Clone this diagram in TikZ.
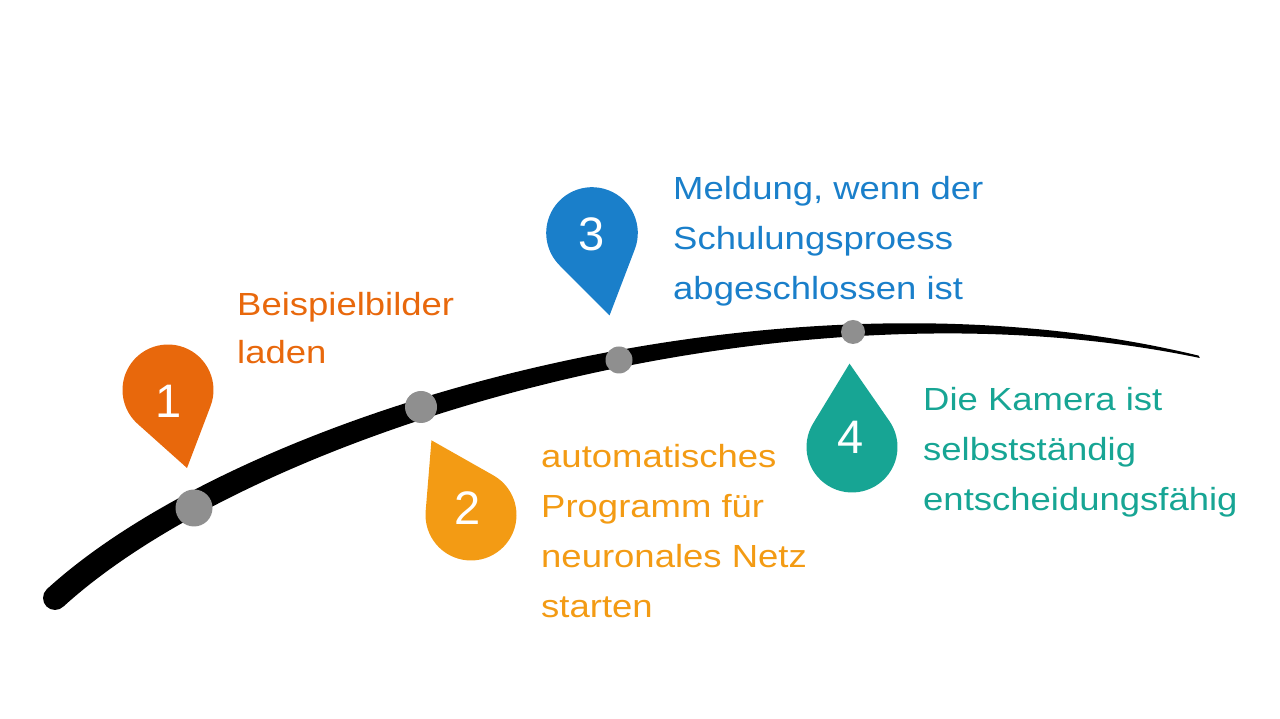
\documentclass[tikz,border=0pt]{standalone}
\usepackage{fontspec}
\newfontfamily\labelfont{Liberation Sans}[FakeStretch=1.14]
\newfontfamily\numfont{Liberation Sans}
\definecolor{cOne}{HTML}{E8680C}
\definecolor{cTwo}{HTML}{F39B14}
\definecolor{cThree}{HTML}{1A7FCA}
\definecolor{cFour}{HTML}{17A594}
\definecolor{cDot}{HTML}{8F8F8F}
\newcommand\droppin[5]{%
  \begin{scope}[shift={#1},rotate=#2]
    \pgfmathsetmacro\pinha{acos(#4/#3)}
    \fill[#5] (#3,0) -- (\pinha:#4) arc[start angle=\pinha, end angle={360-\pinha}, radius=#4] -- cycle;
  \end{scope}}
\begin{document}
\begin{tikzpicture}[x=1pt,y=1pt,
  declare function={
    bx(\t)=0.55*(1-\t)^3+3*2.50*(1-\t)^2*\t+3*7.80*(1-\t)*\t^2+12.00*\t^3;
    by(\t)=1.21*(1-\t)^3+3*2.99*(1-\t)^2*\t+3*4.57*(1-\t)*\t^2+3.62*\t^3;
    dx(\t)=3*(1-\t)^2*(2.50-0.55)+6*(1-\t)*\t*(7.80-2.50)+3*\t^2*(12.00-7.80);
    dy(\t)=3*(1-\t)^2*(2.99-1.21)+6*(1-\t)*\t*(4.57-2.99)+3*\t^2*(3.62-4.57);
    hw(\t)=0.5*(0.02+0.22*(1-\t^2));
    nx(\t)=-dy(\t)/sqrt(dx(\t)^2+dy(\t)^2);
    ny(\t)=dx(\t)/sqrt(dx(\t)^2+dy(\t)^2);
  },
  lbl/.style={anchor=north west, inner sep=0pt, align=left},
  num/.style={text=white, inner sep=0pt, font={\numfont\fontsize{47}{47}\selectfont}},
  dot/.style={circle, fill=cDot, inner sep=0pt}
]
\useasboundingbox (0,0) rectangle (1280,719);
% tapered timeline curve
\fill[black] plot[variable=\t,domain=0:1,samples=120,smooth]
    ({100*(bx(\t)+hw(\t)*nx(\t))},{100*(by(\t)+hw(\t)*ny(\t))})
  -- plot[variable=\t,domain=1:0,samples=120,smooth]
    ({100*(bx(\t)-hw(\t)*nx(\t))},{100*(by(\t)-hw(\t)*ny(\t))}) -- cycle;
\fill[black] (55,121) circle[radius=12];
% dots
\node[dot, minimum size=37pt] (d1) at (194,211) {};
\node[dot, minimum size=32pt] (d2) at (421,312) {};
\node[dot, minimum size=27pt] (d3) at (619,359) {};
\node[dot, minimum size=24pt] (d4) at (853,387) {};
% pins
\droppin{(168,329)}{-76.3}{80.3}{45.5}{cOne}
\droppin{(471,204)}{117.9}{84.5}{45.5}{cTwo}
\droppin{(592,486)}{-78}{84.3}{45.8}{cThree}
\droppin{(852,272)}{91.7}{83.4}{45.5}{cFour}
\node[num] (n1) at (169,318) {1};
\node[num] (n2) at (468,211) {2};
\node[num] (n3) at (592,485) {3};
\node[num] (n4) at (851,282) {4};
% labels
\node[lbl, text=cOne, font={\labelfont\fontsize{32}{48}\selectfont}] (t1) at (237,427) {Beispielbilder\\laden};
\node[lbl, text=cTwo, font={\labelfont\fontsize{32}{50}\selectfont}] (t2) at (541,275) {automatisches\\Programm für\\neuronales Netz\\starten};
\node[lbl, text=cThree, font={\labelfont\fontsize{32}{50}\selectfont}] (t3) at (673,543) {Meldung, wenn der\\Schulungsproess\\abgeschlossen ist};
\node[lbl, text=cFour, font={\labelfont\fontsize{32}{50}\selectfont}] (t4) at (923,332) {Die Kamera ist\\selbstständig\\entscheidungsfähig};
\end{tikzpicture}
\end{document}
